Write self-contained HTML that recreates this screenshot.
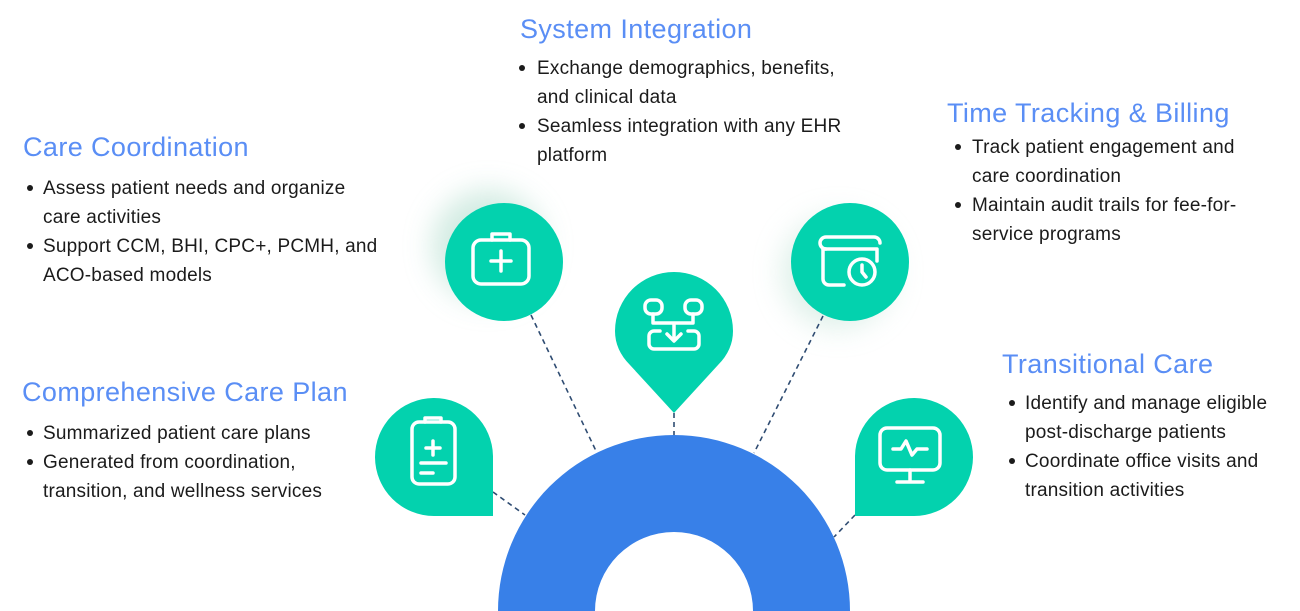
<!DOCTYPE html>
<html><head><meta charset="utf-8"><style>
html,body{margin:0;padding:0;width:1300px;height:611px;overflow:hidden;background:#fff;font-family:"Liberation Sans",sans-serif}
.t{position:absolute;color:#5a8ef5;font-size:27px;letter-spacing:0.4px;white-space:nowrap;line-height:30px}
.l{position:absolute;color:#1b1b1b;font-size:19px;letter-spacing:0.2px;white-space:nowrap;line-height:29px}
.b{position:absolute;width:6px;height:6px;border-radius:50%;background:#1b1b1b}
</style></head><body>
<svg width="1300" height="611" style="position:absolute;left:0;top:0">
<defs>
<filter id="sh" x="-60%" y="-60%" width="220%" height="220%"><feGaussianBlur stdDeviation="14"/></filter>
</defs>
<circle cx="488" cy="246" r="56" fill="#bfe3d6" opacity="0.7" filter="url(#sh)"/>
<circle cx="838" cy="272" r="56" fill="#c8e6da" opacity="0.6" filter="url(#sh)"/>
<g stroke="#2f4c72" stroke-width="1.6" stroke-dasharray="5,4" fill="none">
<line x1="531" y1="315" x2="597" y2="453"/>
<line x1="823" y1="316" x2="754" y2="453"/>
<line x1="674" y1="413" x2="674" y2="436"/>
<line x1="493" y1="492" x2="525" y2="515"/>
<line x1="855" y1="515" x2="834" y2="537"/>
</g>
<path d="M498 611 A176 176 0 0 1 850 611 L753 611 A79 79 0 0 0 595 611 Z" fill="#3880e8"/>
<g fill="#03d2ae">
<circle cx="504" cy="262" r="59"/>
<circle cx="850" cy="262" r="59"/>
<path d="M615 331 A59 59 0 0 1 733 331 Q733 350 718 365 L674 413 L630 365 Q615 350 615 331 Z"/>
<path d="M493 516 L434 516 A59 59 0 1 1 493 456 Z"/>
<path d="M855 516 L914 516 A59 59 0 1 0 855 456 Z"/>
</g>
<g stroke="#fff" stroke-width="3.5" fill="none" stroke-linecap="round" stroke-linejoin="round">
<rect x="473" y="240" width="56" height="44" rx="8"/>
<path d="M492 240 v-6 h18 v6"/>
<path d="M501 251 v20 M491 261 h20"/>
<path d="M844 285 h-15 a6 6 0 0 1 -6 -6 v-30"/>
<path d="M823 249 h54 v12"/>
<path d="M826 249 a6 6 0 0 1 0 -12 h48 a6 6 0 0 1 6 6"/>
<circle cx="862" cy="272" r="13"/>
<path d="M862 265 v7 l4 5"/>
<rect x="645" y="300" width="17" height="14" rx="6"/>
<rect x="685" y="300" width="17" height="14" rx="6"/>
<path d="M653 314 v9 h40 v-9 M674 323 v17 M667 334 l7 7 7 -7"/>
<path d="M660 331 h-6 a5 5 0 0 0 -5 5 v8 a5 5 0 0 0 5 5 h40 a5 5 0 0 0 5 -5 v-8 a5 5 0 0 0 -5 -5 h-6"/>
<rect x="412" y="422" width="43" height="62" rx="7"/>
<path d="M425 422 v-4 h16 v4"/>
<path d="M433 441 v14 M426 448 h14 M421 463 h25 M421 473 h12"/>
<rect x="880" y="428" width="60" height="42" rx="7"/>
<path d="M910 470 v10 M897 482 h26"/>
<path d="M893 449 h8 l5 -8 l6 14 l5 -6 h10"/>
</g>
</svg>

<div class="t" style="left:520px;top:14px">System Integration</div>
<div class="b" style="left:519px;top:65px"></div><div class="l" style="left:537px;top:54px">Exchange demographics, benefits,</div>
<div class="l" style="left:537px;top:83px">and clinical data</div>
<div class="b" style="left:519px;top:123px"></div><div class="l" style="left:537px;top:112px">Seamless integration with any EHR</div>
<div class="l" style="left:537px;top:141px">platform</div>

<div class="t" style="left:947px;top:98px">Time Tracking &amp; Billing</div>
<div class="b" style="left:955px;top:144px"></div><div class="l" style="left:972px;top:133px">Track patient engagement and</div>
<div class="l" style="left:972px;top:162px">care coordination</div>
<div class="b" style="left:955px;top:202px"></div><div class="l" style="left:972px;top:191px">Maintain audit trails for fee-for-</div>
<div class="l" style="left:972px;top:220px">service programs</div>

<div class="t" style="left:23px;top:132px">Care Coordination</div>
<div class="b" style="left:27px;top:185px"></div><div class="l" style="left:43px;top:174px">Assess patient needs and organize</div>
<div class="l" style="left:43px;top:203px">care activities</div>
<div class="b" style="left:27px;top:243px"></div><div class="l" style="left:43px;top:232px">Support CCM, BHI, CPC+, PCMH, and</div>
<div class="l" style="left:43px;top:261px">ACO-based models</div>

<div class="t" style="left:22px;top:377px">Comprehensive Care Plan</div>
<div class="b" style="left:27px;top:430px"></div><div class="l" style="left:43px;top:419px">Summarized patient care plans</div>
<div class="b" style="left:27px;top:459px"></div><div class="l" style="left:43px;top:448px">Generated from coordination,</div>
<div class="l" style="left:43px;top:477px">transition, and wellness services</div>

<div class="t" style="left:1002px;top:349px">Transitional Care</div>
<div class="b" style="left:1009px;top:400px"></div><div class="l" style="left:1025px;top:389px">Identify and manage eligible</div>
<div class="l" style="left:1025px;top:418px">post-discharge patients</div>
<div class="b" style="left:1009px;top:458px"></div><div class="l" style="left:1025px;top:447px">Coordinate office visits and</div>
<div class="l" style="left:1025px;top:476px">transition activities</div>
</body></html>
